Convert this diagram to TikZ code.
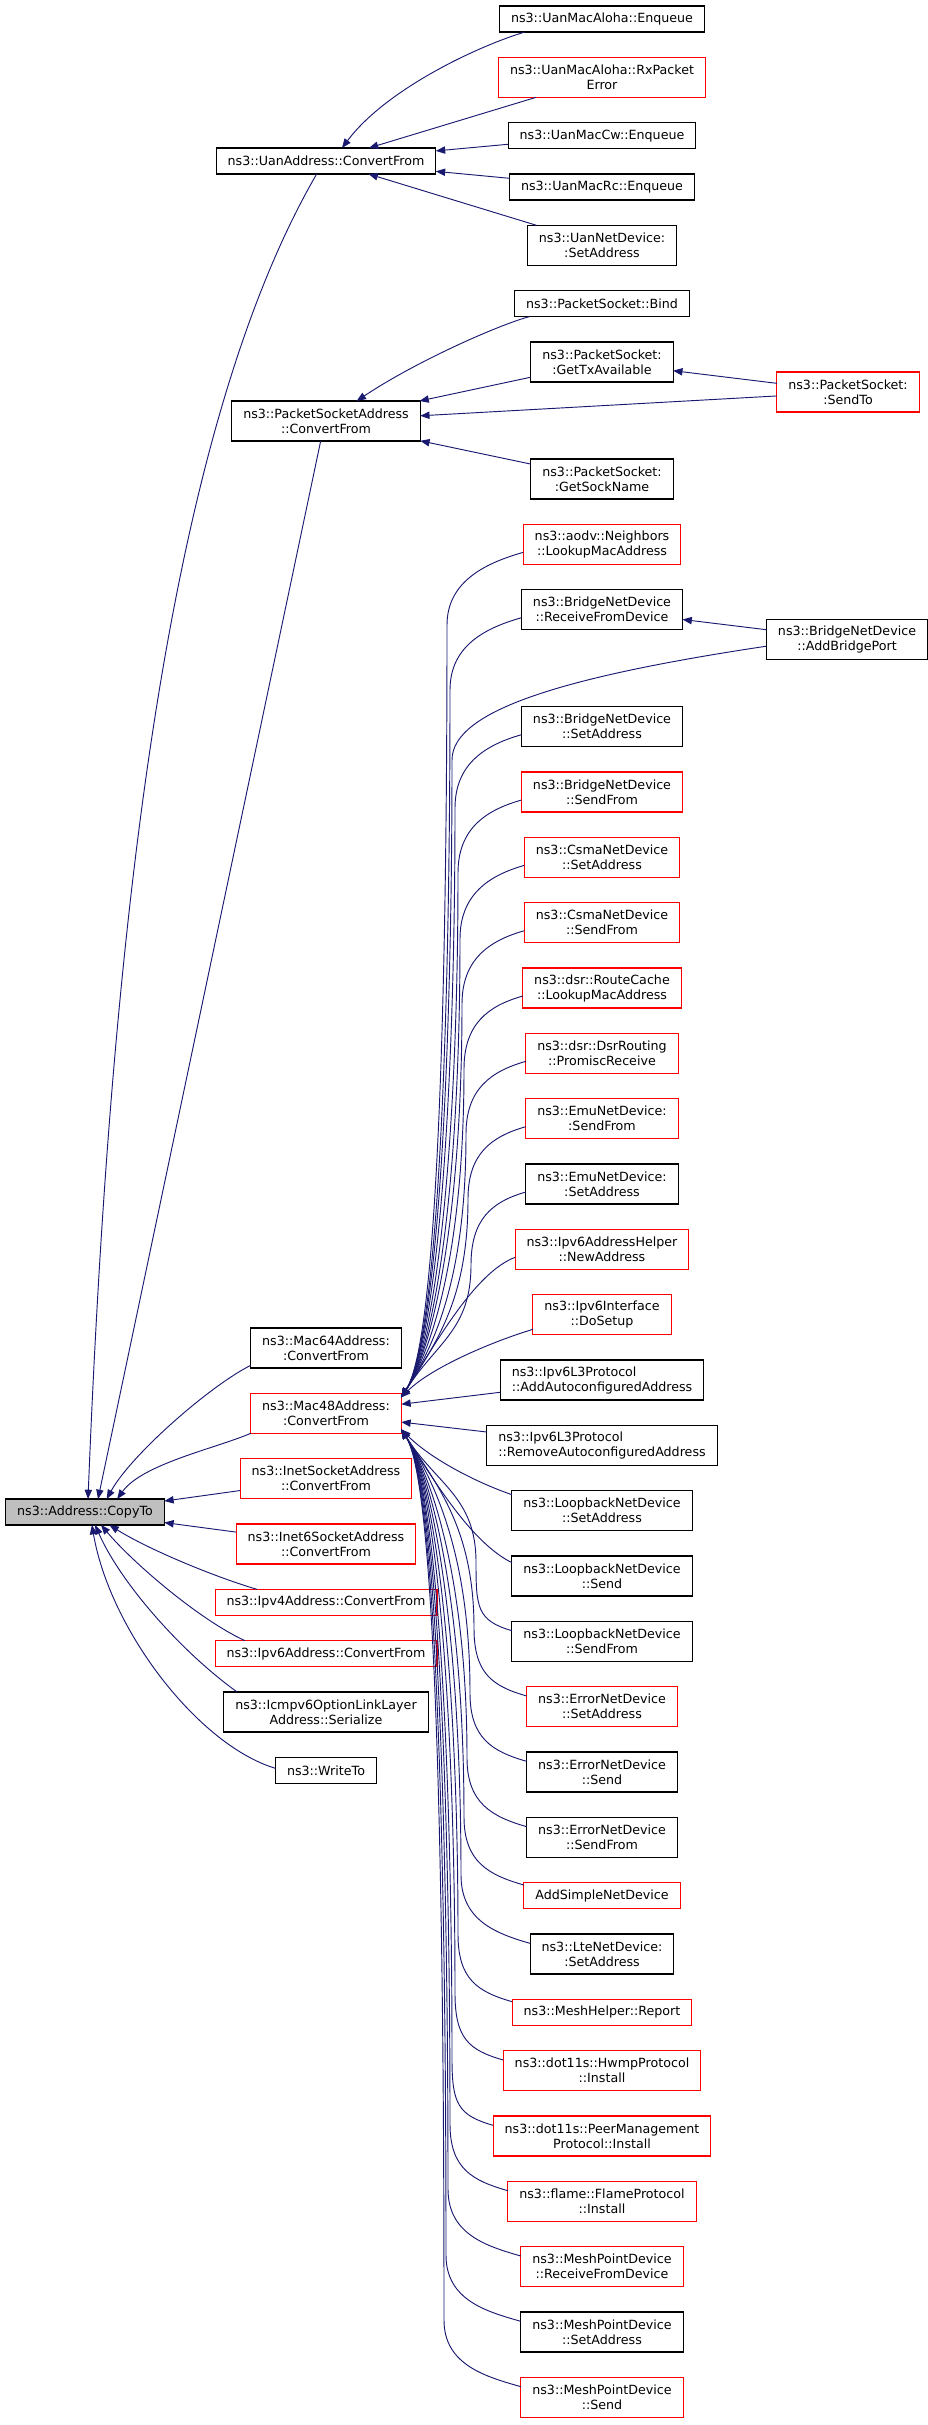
\documentclass[tikz,border=0pt]{standalone}
\usepackage{fontspec}
\setmainfont{DejaVu Sans}
\usepackage{tikz}
\usetikzlibrary{shapes, arrows.meta, positioning}
\definecolor{edgeblue}{HTML}{191970}
\definecolor{boxred}{HTML}{FF0000}
\definecolor{boxgray}{HTML}{BFBFBF}
\tikzstyle{block}=[draw=black,fill=white,rectangle,line width=0.8pt,outer sep=0pt,inner xsep=8.6pt,inner ysep=2pt,minimum height=19.5pt,align=center]
\tikzstyle{redblock}=[block,draw=boxred]
\tikzstyle{pair}=[minimum height=30pt]
\tikzstyle{call}=[draw=edgeblue,line width=0.7pt,<-]
\tikzstyle{every node}=[font=\fontsize{9.5}{11.25}\selectfont]
% callers of Mac48Address::ConvertFrom, above and below it
\newcommand{\fromabove}[3]{\draw[call] (mac48conv.12) .. controls +(35,-55) and +(0,#3) .. (#2) .. controls +(0,-45) and +(-35,10) .. ([yshift=-6pt]#1.west);}
\newcommand{\frombelow}[3]{\draw[call] (mac48conv.348) .. controls +(35,55) and +(0,-#3) .. (#2) .. controls +(0,45) and +(-35,-10) .. ([yshift=8pt]#1.west);}

\begin{document}
\begin{tikzpicture}[x=0.75pt,y=-0.75pt,node distance=19pt,>={Triangle[length=7pt,width=5.5pt]}]
    \useasboundingbox (0,0) rectangle (928,2425);
    % left part
    \node[block, fill=boxgray] (copyto) at (85,1512) {ns3::Address::CopyTo};
    \node[block] (uanconv) at (326,161) {ns3::UanAddress::ConvertFrom};
    \node[block, pair] (psaconv) at (326,421) {ns3::PacketSocketAddress\\::ConvertFrom};
    \node[block, pair] (mac64conv) at (326,1348) {ns3::Mac64Address:\\:ConvertFrom};
    \node[redblock, pair, below=of mac64conv] (mac48conv) {ns3::Mac48Address:\\:ConvertFrom};
    \node[redblock, pair, below=of mac48conv] (inetconv) {ns3::InetSocketAddress\\::ConvertFrom};
    \node[redblock, pair, below=of inetconv] (inet6conv) {ns3::Inet6SocketAddress\\::ConvertFrom};
    \node[redblock, below=of inet6conv] (ipv4conv) {ns3::Ipv4Address::ConvertFrom};
    \node[redblock, below=of ipv4conv] (ipv6conv) {ns3::Ipv6Address::ConvertFrom};
    \node[block, pair, below=of ipv6conv] (icmpser) {ns3::Icmpv6OptionLinkLayer\\Address::Serialize};
    \node[block, below=of icmpser] (writeto) {ns3::WriteTo};
    % right part
    \node[block] (alohaenq) at (602,19) {ns3::UanMacAloha::Enqueue};
    \node[redblock, pair, below=of alohaenq] (alohaerr) {ns3::UanMacAloha::RxPacket\\Error};
    \node[block, below=of alohaerr] (cwenq) {ns3::UanMacCw::Enqueue};
    \node[block, below=of cwenq] (rcenq) {ns3::UanMacRc::Enqueue};
    \node[block, pair, below=of rcenq] (uansetaddr) {ns3::UanNetDevice:\\:SetAddress};
    \node[block, below=of uansetaddr] (psbind) {ns3::PacketSocket::Bind};
    \node[block, pair, below=of psbind] (pstxavail) {ns3::PacketSocket:\\:GetTxAvailable};
    \node[block, pair, below=57.75pt of pstxavail] (pssockname) {ns3::PacketSocket:\\:GetSockName};
    \node[redblock, pair, below=of pssockname] (aodvlookup) {ns3::aodv::Neighbors\\::LookupMacAddress};
    \node[block, pair, below=of aodvlookup] (bridgerecv) {ns3::BridgeNetDevice\\::ReceiveFromDevice};
    \node[block, pair, below=57.75pt of bridgerecv] (bridgesetaddr) {ns3::BridgeNetDevice\\::SetAddress};
    \node[redblock, pair, below=of bridgesetaddr] (bridgesend) {ns3::BridgeNetDevice\\::SendFrom};
    \node[redblock, pair, below=of bridgesend] (csmasetaddr) {ns3::CsmaNetDevice\\::SetAddress};
    \node[redblock, pair, below=of csmasetaddr] (csmasend) {ns3::CsmaNetDevice\\::SendFrom};
    \node[redblock, pair, below=of csmasend] (dsrcache) {ns3::dsr::RouteCache\\::LookupMacAddress};
    \node[redblock, pair, below=of dsrcache] (dsrpromisc) {ns3::dsr::DsrRouting\\::PromiscReceive};
    \node[redblock, pair, below=of dsrpromisc] (emusend) {ns3::EmuNetDevice:\\:SendFrom};
    \node[block, pair, below=of emusend] (emusetaddr) {ns3::EmuNetDevice:\\:SetAddress};
    \node[redblock, pair, below=of emusetaddr] (ipv6helper) {ns3::Ipv6AddressHelper\\::NewAddress};
    \node[redblock, pair, below=of ipv6helper] (ipv6setup) {ns3::Ipv6Interface\\::DoSetup};
    \node[block, pair, align=left, below=of ipv6setup] (ipv6addauto) {ns3::Ipv6L3Protocol\\::AddAutoconfiguredAddress};
    \node[block, pair, align=left, below=of ipv6addauto] (ipv6rmauto) {ns3::Ipv6L3Protocol\\::RemoveAutoconfiguredAddress};
    \node[block, pair, below=of ipv6rmauto] (loopsetaddr) {ns3::LoopbackNetDevice\\::SetAddress};
    \node[block, pair, below=of loopsetaddr] (loopsend) {ns3::LoopbackNetDevice\\::Send};
    \node[block, pair, below=of loopsend] (loopsendfrom) {ns3::LoopbackNetDevice\\::SendFrom};
    \node[redblock, pair, below=of loopsendfrom] (errsetaddr) {ns3::ErrorNetDevice\\::SetAddress};
    \node[block, pair, below=of errsetaddr] (errsend) {ns3::ErrorNetDevice\\::Send};
    \node[block, pair, below=of errsend] (errsendfrom) {ns3::ErrorNetDevice\\::SendFrom};
    \node[redblock, below=of errsendfrom] (addsimple) {AddSimpleNetDevice};
    \node[block, pair, below=of addsimple] (ltesetaddr) {ns3::LteNetDevice:\\:SetAddress};
    \node[redblock, below=of ltesetaddr] (meshreport) {ns3::MeshHelper::Report};
    \node[redblock, pair, below=of meshreport] (hwmpinstall) {ns3::dot11s::HwmpProtocol\\::Install};
    \node[redblock, pair, below=of hwmpinstall] (peerinstall) {ns3::dot11s::PeerManagement\\Protocol::Install};
    \node[redblock, pair, below=of peerinstall] (flameinstall) {ns3::flame::FlameProtocol\\::Install};
    \node[redblock, pair, below=of flameinstall] (mpdrecv) {ns3::MeshPointDevice\\::ReceiveFromDevice};
    \node[block, pair, below=of mpdrecv] (mpdsetaddr) {ns3::MeshPointDevice\\::SetAddress};
    \node[redblock, pair, below=of mpdsetaddr] (mpdsend) {ns3::MeshPointDevice\\::Send};
    % far right
    \node[redblock, pair] (pssendto) at (848,392) {ns3::PacketSocket:\\:SendTo};
    \node[block, pair] (bridgeport) at (847,639.5) {ns3::BridgeNetDevice\\::AddBridgePort};
    % into UanAddress::ConvertFrom
    \draw[call] ([xshift=12pt]uanconv.north) .. controls +(45,-60) and +(-44,13) .. ([xshift=19pt]alohaenq.south west);
    \draw[call] (uanconv) -- (alohaerr);
    \draw[call] (uanconv) -- (cwenq);
    \draw[call] (uanconv) -- (rcenq);
    \draw[call] (uanconv) -- (uansetaddr);
    % into PacketSocketAddress::ConvertFrom
    \draw[call] ([xshift=23pt]psaconv.north) .. controls +(60,-40) and +(-30,8) .. ([xshift=11pt]psbind.south west);
    \draw[call] (psaconv) -- (pstxavail);
    \draw[call] (psaconv) -- (pssendto);
    \draw[call] (pstxavail) -- (pssendto);
    \draw[call] (psaconv) -- (pssockname);
    % into Address::CopyTo
    \draw[call] (copyto.77) .. controls +(24,-600) and +(-145,250) .. ([xshift=-7pt]uanconv.south);
    \draw[call] (copyto.45) -- ([xshift=-4pt]psaconv.south);
    \draw[call] (copyto.31) .. controls +(25,-45) and +(-40,20) .. ([yshift=2pt]mac64conv.south west);
    \draw[call] (copyto.22) .. controls +(25,-35) and +(-35,15) .. (mac48conv.south west);
    \draw[call] (copyto) -- (inetconv);
    \draw[call] (copyto) -- (inet6conv);
    \draw[call] (copyto.332) .. controls +(40,25) and +(-41,-12) .. ([xshift=31.5pt]ipv4conv.north west);
    \draw[call] (copyto.321) .. controls +(34,40) and +(-44,-20) .. ([xshift=22.5pt]ipv6conv.north west);
    \draw[call] (copyto.308) .. controls +(25,57) and +(-57,-41) .. ([xshift=10pt]icmpser.north west);
    \draw[call] (copyto.298) .. controls +(18,105) and +(-77,-23) .. ([yshift=1.5pt]writeto.west);
    % into Mac48Address::ConvertFrom
    \fromabove{aodvlookup}{447,625}{400}
    \fromabove{bridgerecv}{450,690}{370}
    \draw[call] (mac48conv.12) .. controls +(35,-55) and +(0,320) .. (452,760) .. controls +(0,-50) and +(-200,30) .. ([yshift=-5pt]bridgeport.west);
    \draw[call] (bridgerecv) -- (bridgeport);
    \fromabove{bridgesetaddr}{455,808}{300}
    \fromabove{bridgesend}{458,873}{270}
    \fromabove{csmasetaddr}{460,939}{240}
    \fromabove{csmasend}{462,1004}{200}
    \fromabove{dsrcache}{464,1069}{170}
    \fromabove{dsrpromisc}{466,1134}{140}
    \fromabove{emusend}{468,1199}{100}
    \fromabove{emusetaddr}{471,1265}{65}
    \draw[call] (mac48conv.12) .. controls +(35,-55) and +(-40,15) .. ([yshift=-6pt]ipv6helper.west);
    \draw[call] (mac48conv.12) .. controls +(30,-30) and +(-40,12) .. ([yshift=-11pt]ipv6setup.west);
    \draw[call] (mac48conv) -- (ipv6addauto);
    \draw[call] (mac48conv) -- (ipv6rmauto);
    \draw[call] (mac48conv.348) .. controls +(30,30) and +(-35,-12) .. ([yshift=12pt]loopsetaddr.west);
    \draw[call] (mac48conv.348) .. controls +(35,55) and +(-40,-20) .. ([yshift=10pt]loopsend.west);
    \frombelow{loopsendfrom}{476,1562}{65}
    \frombelow{errsetaddr}{474,1628}{100}
    \frombelow{errsend}{470,1693}{135}
    \frombelow{errsendfrom}{467,1758}{165}
    \frombelow{addsimple}{464,1817}{195}
    \frombelow{ltesetaddr}{461,1875}{225}
    \frombelow{meshreport}{458,1934}{255}
    \frombelow{hwmpinstall}{455,1993}{285}
    \frombelow{peerinstall}{452,2059}{315}
    \frombelow{flameinstall}{450,2124}{350}
    \frombelow{mpdrecv}{448,2189}{380}
    \frombelow{mpdsetaddr}{446,2255}{410}
    \frombelow{mpdsend}{444,2320}{445}
\end{tikzpicture}
\end{document}
